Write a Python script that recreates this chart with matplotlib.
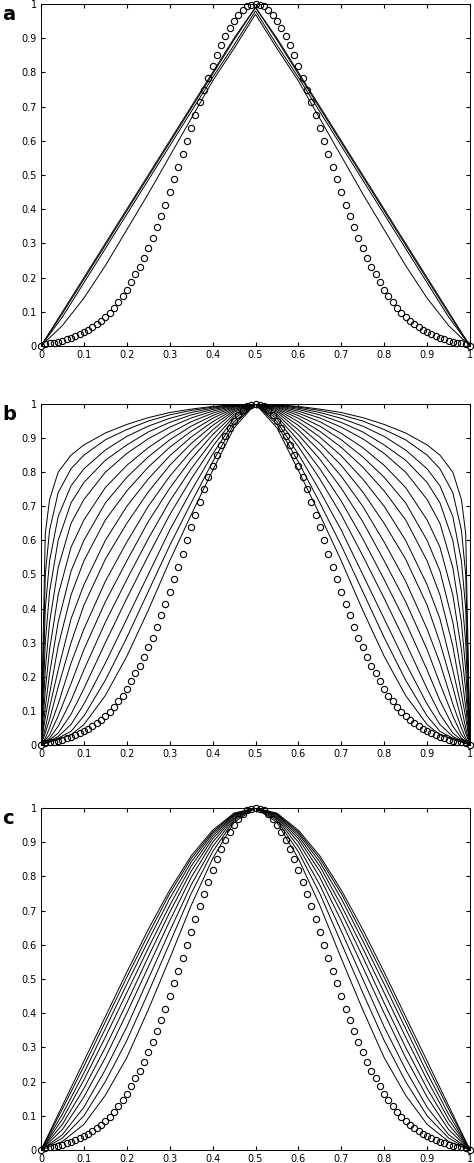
import numpy as np
import matplotlib
matplotlib.use("Agg")
import matplotlib.pyplot as plt

# circle series, x = 0..0.5 step 0.01 (symmetric about 0.5)
circ_x_half = [i/100 for i in range(51)]
circ_y_half = [0.0,.005,.008,.01,.013,.016,.02,.024,.028,.034,.04,.047,.055,.064,.074,.085,.097,.11,.128,.145,
               .165,.187,.21,.232,.258,.287,.315,.347,.38,.413,.45,.487,.523,.56,.6,.638,.675,.712,.75,.785,
               .818,.85,.88,.907,.93,.95,.967,.982,.993,.998,1.0]

xa = [0,.05,.1,.15,.2,.25,.3,.35,.4,.45,.5]
lines_a = [
    [0,.1,.2,.3,.4,.5,.6,.7,.8,.9,.99],
    [0,.095,.195,.295,.395,.495,.595,.695,.795,.895,.99],
    [0,.085,.185,.285,.385,.485,.585,.685,.785,.88,.98],
    [0,.06,.14,.235,.34,.445,.555,.665,.775,.87,.97],
]

xb = [0,.01,.02,.04,.07,.1,.15,.2,.25,.3,.35,.4,.45,.5]
lines_b = [
    [0,.62,.72,.80,.85,.88,.915,.94,.96,.975,.985,.993,.998,1],
    [0,.50,.63,.74,.81,.85,.895,.925,.95,.968,.981,.991,.997,1],
    [0,.40,.54,.67,.76,.81,.865,.905,.935,.958,.975,.988,.996,1],
    [0,.30,.45,.60,.71,.77,.835,.88,.918,.946,.968,.984,.995,1],
    [0,.22,.36,.52,.65,.72,.80,.855,.898,.932,.959,.979,.994,1],
    [0,.16,.28,.44,.58,.66,.755,.82,.872,.914,.948,.973,.992,1],
    [0,.11,.21,.36,.51,.60,.71,.785,.845,.895,.935,.966,.99,1],
    [0,.08,.15,.29,.44,.54,.66,.745,.815,.873,.92,.958,.987,1],
    [0,.05,.11,.22,.37,.47,.60,.70,.78,.848,.903,.948,.984,1],
    [0,.035,.075,.17,.30,.41,.545,.65,.742,.82,.884,.937,.98,1],
    [0,.02,.05,.12,.24,.34,.48,.595,.70,.788,.862,.924,.976,1],
    [0,.014,.03,.085,.18,.28,.42,.54,.655,.753,.838,.91,.97,1],
    [0,.01,.02,.055,.13,.22,.36,.485,.605,.715,.81,.893,.964,1],
    [0,.008,.015,.035,.09,.165,.30,.43,.555,.675,.78,.875,.957,1],
    [0,.006,.012,.025,.06,.12,.24,.37,.50,.63,.745,.853,.948,1],
    [0,.005,.01,.02,.04,.085,.19,.315,.45,.585,.71,.83,.94,1],
    [0,.005,.009,.016,.03,.06,.145,.26,.395,.54,.675,.805,.93,1],
]

xc = [0,.05,.1,.15,.2,.25,.3,.35,.4,.45,.5]
lines_c = [
    [0,.13,.26,.39,.52,.645,.76,.86,.935,.985,1],
    [0,.12,.245,.375,.505,.63,.75,.852,.93,.983,1],
    [0,.105,.225,.355,.485,.612,.735,.842,.925,.981,1],
    [0,.09,.205,.33,.46,.59,.715,.83,.918,.979,1],
    [0,.075,.18,.30,.43,.565,.695,.815,.91,.976,1],
    [0,.06,.155,.27,.40,.535,.67,.797,.9,.973,1],
    [0,.045,.125,.235,.36,.50,.64,.775,.887,.969,1],
    [0,.035,.10,.20,.32,.46,.605,.75,.872,.964,1],
    [0,.025,.075,.16,.27,.41,.56,.715,.852,.958,1],
]

panel_labels = ["a", "b", "c"]
xticks = [0,.1,.2,.3,.4,.5,.6,.7,.8,.9,1]
xticklabels = ["0","0.1","0.2","0.3","0.4","0.5","0.6","0.7","0.8","0.9","1"]
yticks = [0,.1,.2,.3,.4,.5,.6,.7,.8,.9,1]
yticklabels = ["0","0.1","0.2","0.3","0.4","0.5","0.6","0.7","0.8","0.9","1"]

def full(xh, yh):
    xh = np.asarray(xh, float); yh = np.asarray(yh, float)
    return np.concatenate([xh, 1 - xh[::-1][1:]]), np.concatenate([yh, yh[::-1][1:]])

W, H = 474, 1163
fig = plt.figure(figsize=(W/100, H/100), dpi=100)
rects = [(4, 346), (404, 745), (808, 1150)]
datasets = [(xa, lines_a), (xb, lines_b), (xc, lines_c)]
cx, cy = full(circ_x_half, circ_y_half)
for (top, bot), (xs, ls), lab in zip(rects, datasets, panel_labels):
    ax = fig.add_axes([41/W, 1 - bot/H, (470-41)/W, (bot-top)/H])
    for yv in ls:
        fx, fy = full(xs, yv)
        ax.plot(fx, fy, color="black", lw=0.7)
    ax.plot(cx, cy, 'o', mfc='none', mec='black', ms=4.5, mew=0.8, clip_on=False)
    ax.set_xlim(0, 1); ax.set_ylim(0, 1)
    ax.set_xticks(xticks); ax.set_xticklabels(xticklabels)
    ax.set_yticks(yticks); ax.set_yticklabels(yticklabels)
    ax.tick_params(direction='in', labelsize=7, length=3, top=True, right=True, pad=3)
    for s in ax.spines.values():
        s.set_linewidth(0.7)
    fig.text(2/W, 1 - (top + 10)/H, lab, fontsize=14, fontweight='bold', va='center', ha='left')

fig.savefig("out.png", dpi=100)
